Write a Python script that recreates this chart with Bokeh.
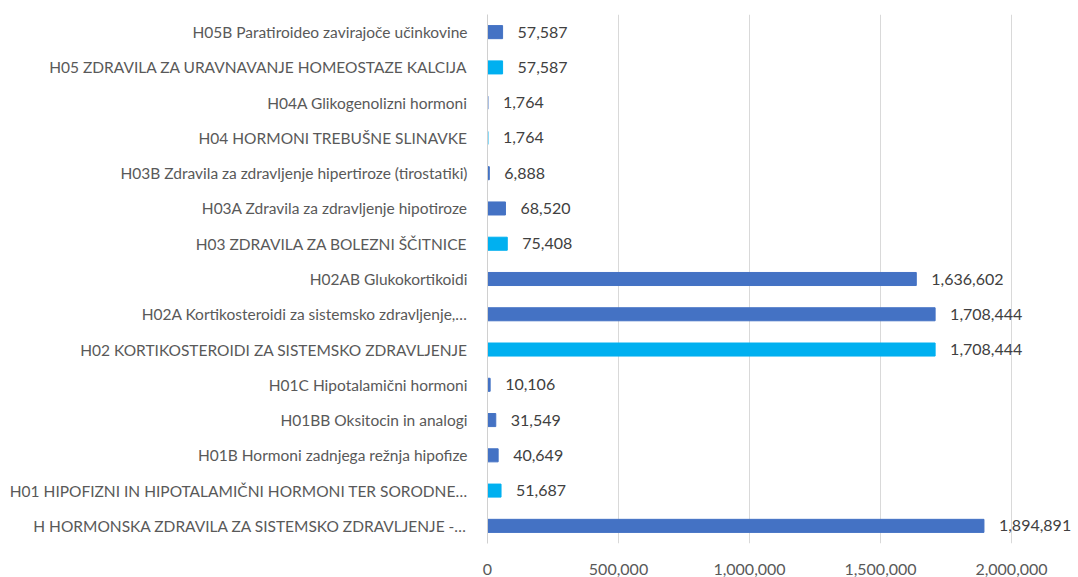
from bokeh.plotting import figure
from bokeh.models import ColumnDataSource, FactorRange, NumeralTickFormatter, Range1d, FixedTicker, LabelSet
from bokeh.core.properties import value
from bokeh.embed import file_html
from bokeh.resources import INLINE

categories = [
    "H HORMONSKA ZDRAVILA ZA SISTEMSKO ZDRAVLJENJE -…",
    "H01 HIPOFIZNI IN HIPOTALAMIČNI HORMONI TER SORODNE…",
    "H01B Hormoni zadnjega režnja hipofize",
    "H01BB Oksitocin in analogi",
    "H01C Hipotalamični hormoni",
    "H02 KORTIKOSTEROIDI ZA SISTEMSKO ZDRAVLJENJE",
    "H02A Kortikosteroidi za sistemsko zdravljenje,…",
    "H02AB Glukokortikoidi",
    "H03 ZDRAVILA ZA BOLEZNI ŠČITNICE",
    "H03A Zdravila za zdravljenje hipotiroze",
    "H03B Zdravila za zdravljenje hipertiroze (tirostatiki)",
    "H04 HORMONI TREBUŠNE SLINAVKE",
    "H04A Glikogenolizni hormoni",
    "H05 ZDRAVILA ZA URAVNAVANJE HOMEOSTAZE KALCIJA",
    "H05B Paratiroideo zavirajoče učinkovine",
]
values = [1894891, 51687, 40649, 31549, 10106, 1708444, 1708444, 1636602,
          75408, 68520, 6888, 1764, 1764, 57587, 57587]
is_group = [False, True, False, False, False, True, False, False,
            True, False, False, True, False, True, False]
x_ticks = [0, 500000, 1000000, 1500000, 2000000]

DARK = "#4472C4"
LIGHT = "#00B0F0"
FONT = "Lato"
TXT = "#595959"

# frame spans 0..2,000,000 over 524 px; extend to the page edge so value labels are not clipped
FRAME_LEFT = 487
PX_PER_UNIT = 524 / 2000000
x_end = (1078 - FRAME_LEFT) / PX_PER_UNIT

colors = [LIGHT if g else DARK for g in is_group]
labels = [f"{v:,}" for v in values]
src = ColumnDataSource(dict(cat=categories, val=values, color=colors, label=labels))

p = figure(width=1078, height=577, y_range=FactorRange(*categories),
           x_range=Range1d(0, x_end), output_backend="svg",
           toolbar_location=None, min_border_left=FRAME_LEFT, min_border_right=0,
           min_border_top=14, min_border_bottom=33)
p.y_range.range_padding = 0
p.outline_line_color = None

p.hbar(y="cat", right="val", left=0, height=0.37, color="color", source=src)
p.add_layout(LabelSet(x="val", y="cat", text="label", source=src, x_offset=15,
                      text_baseline="middle", text_align="left", text_color="#404040",
                      text_font=value(FONT), text_font_size="16px"))

p.xaxis.ticker = FixedTicker(ticks=x_ticks)
p.xaxis.formatter = NumeralTickFormatter(format="0,0")
p.xaxis.axis_line_color = None
p.xaxis.major_tick_line_color = None
p.xaxis.minor_tick_line_color = None
p.xaxis.major_label_text_font = FONT
p.xaxis.major_label_text_font_size = "16px"
p.xaxis.major_label_text_color = TXT
p.xaxis.major_label_standoff = 14

p.yaxis.axis_line_color = "#D0D0D0"
p.yaxis.major_tick_line_color = None
p.yaxis.minor_tick_line_color = None
p.yaxis.major_label_text_font = FONT
p.yaxis.major_label_text_font_size = "15.5px"
p.yaxis.major_label_text_color = TXT
p.yaxis.major_label_standoff = 14

p.xgrid.grid_line_color = "#D9D9D9"
p.ygrid.grid_line_color = None

open("out.html", "w").write(file_html(p, INLINE))
